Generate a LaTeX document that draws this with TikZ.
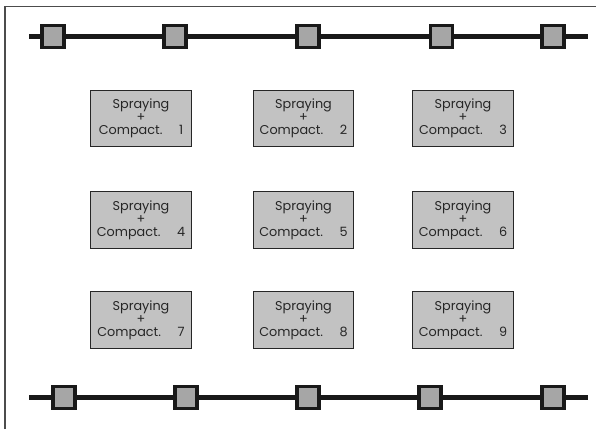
\documentclass[tikz,border=0pt]{standalone}
\usepackage{fontspec}
\setmainfont{Poppins}
\begin{document}
\begin{tikzpicture}[x=0.75pt,y=-0.75pt,
  rail/.style={line width=3.75pt,color=black!90},
  joint/.style={draw=black!90,line width=2.4pt,fill=black!35,minimum size=16.5pt,inner sep=0pt,outer sep=0pt},
  cell/.style={draw=black!85,line width=0.8pt,fill=black!24,minimum width=75.5pt,minimum height=42.5pt,inner sep=0pt,align=center,font=\fontsize{9.6}{9.9}\selectfont,text=black!85},
  frame/.style={draw=black!70,line width=0.9pt}]
\useasboundingbox (0,0) rectangle (596,429);
% partial outer frame
\draw[frame] (5,429) -- (5,6.5) -- (596,6.5);
% upper rail with joints
\coordinate (ta) at (29,36.5);
\coordinate (tb) at (588,36.5);
\draw[rail] (ta) -- (tb);
\foreach \x [count=\i] in {53,175,308,441.5,553}
  \node[joint] (t\i) at (\x,36.5) {};
% lower rail with joints
\coordinate (ba) at (29,397.5);
\coordinate (bb) at (588,397.5);
\draw[rail] (ba) -- (bb);
\foreach \x [count=\i] in {64,186,308,430,553}
  \node[joint] (b\i) at (\x,397.5) {};
% grid of spraying + compaction cells
\foreach \y [count=\r] in {118.5,220,320}
  \foreach \x [count=\c] in {141,303.5,463}
  {
    \pgfmathtruncatemacro{\n}{(\r-1)*3+\c}
    \node[cell] (c\n) at (\x,\y) {Spraying\\+\\Compact.\hspace{1.3em}\n};
  }
\end{tikzpicture}
\end{document}
